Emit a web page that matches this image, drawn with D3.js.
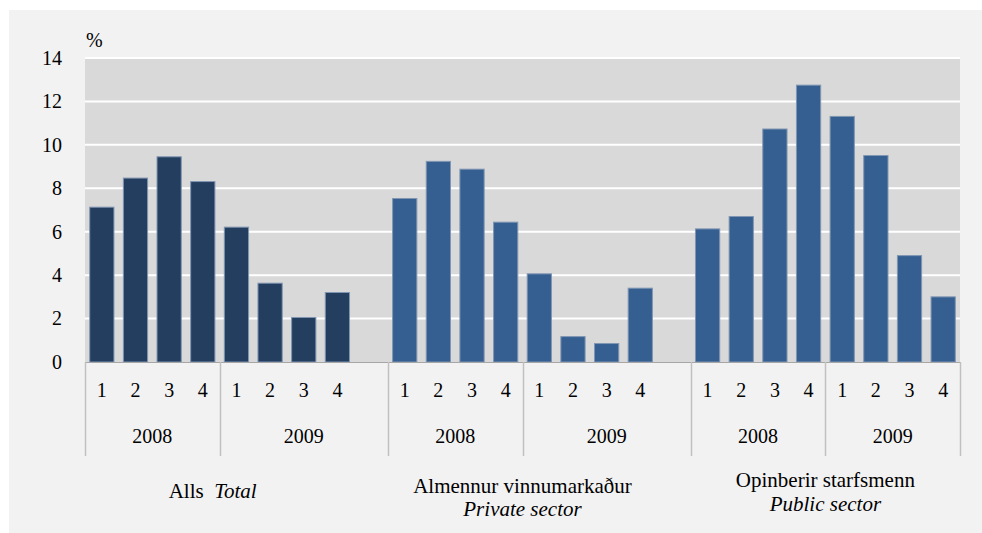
<!DOCTYPE html>
<html>
<head>
<meta charset="utf-8">
<script src="https://cdn.jsdelivr.net/npm/d3@7"></script>
<style>
  body { margin: 0; background: #fff; }
  text { font-family: "Liberation Serif", "Times New Roman", serif; fill: #000; }
</style>
</head>
<body>
<div id="vis"></div>
<script>
// data (percent)
const groups = ['total', 'private', 'public'];
const groupLine1 = ['Alls', 'Almennur vinnumarkaður', 'Opinberir starfsmenn'];
const groupLine2 = ['Total', 'Private sector', 'Public sector'];
const years = ['2008', '2009'];
const quarters = ['1', '2', '3', '4'];
const totalValues   = [7.13, 8.47, 9.45, 8.31, 6.21, 3.63, 2.05, 3.20];
const privateValues = [7.53, 9.24, 8.88, 6.44, 4.06, 1.17, 0.85, 3.40];
const publicValues  = [6.13, 6.70, 10.73, 12.75, 11.31, 9.51, 4.90, 3.00];
const yTicks = [0, 2, 4, 6, 8, 10, 12, 14];

const seriesValues = [totalValues, privateValues, publicValues];
const barColors = ['#243e60', '#355f91', '#355f91'];

const W = 982, H = 533;
const margin = { top: 58, right: 22, bottom: 171, left: 85 };
const width = W - margin.left - margin.right;
const height = H - margin.top - margin.bottom;
const numFont = '20px', labelFont = '21px';

// slot keys: 8 bars per group plus an empty slot between groups
const slots = [];
groups.forEach((g, gi) => {
    years.forEach(y => quarters.forEach(q => slots.push(`${g}-${y}-${q}`)));
    if (gi < groups.length - 1) slots.push(`${g}-gap`);
});

const bars = [];
groups.forEach((g, gi) => {
    seriesValues[gi].forEach((v, i) => {
        bars.push({ key: `${g}-${years[Math.floor(i / 4)]}-${quarters[i % 4]}`, value: v, group: gi });
    });
});

const svg = d3.select('#vis')
    .append('svg')
    .attr('width', W)
    .attr('height', H);

// grey panel
svg.append('rect')
    .attr('x', 9).attr('y', 10)
    .attr('width', W - 9).attr('height', H - 10)
    .attr('fill', '#f2f2f2');

const g = svg.append('g')
    .attr('transform', `translate(${margin.left},${margin.top})`);

const xScale = d3.scaleBand()
    .domain(slots)
    .range([0, width])
    .paddingInner(0.25)
    .paddingOuter(0.125);

const yScale = d3.scaleLinear()
    .domain([0, 14])
    .range([height, 0]);

// plot background
g.append('rect')
    .attr('width', width)
    .attr('height', height)
    .attr('fill', '#d9d9d9');

// gridlines
g.selectAll('.grid')
    .data(yTicks.filter(d => d > 0))
    .join('line')
    .attr('class', 'grid')
    .attr('x1', 0).attr('x2', width)
    .attr('y1', d => yScale(d)).attr('y2', d => yScale(d))
    .attr('stroke', '#fff')
    .attr('stroke-width', 2);

// y axis labels
const yAxis = d3.axisLeft(yScale).tickValues(yTicks).tickSize(0).tickPadding(23);
g.append('g')
    .call(yAxis)
    .call(a => a.select('.domain').remove())
    .selectAll('text')
    .style('font-size', numFont)
    .style('font-family', '"Liberation Serif", serif');

g.append('text')
    .attr('x', 1)
    .attr('y', -11)
    .style('font-size', numFont)
    .text('%');

// bars
const step = xScale.step();
g.selectAll('.bar')
    .data(bars)
    .join('rect')
    .attr('class', 'bar')
    .attr('x', d => xScale(d.key) + 0.5)
    .attr('y', d => yScale(d.value))
    .attr('width', xScale.bandwidth() - 1)
    .attr('height', d => height - yScale(d.value))
    .attr('fill', d => barColors[d.group])
    .attr('stroke', '#8196b2')
    .attr('stroke-width', 1);

// baseline
g.append('line')
    .attr('x1', 0).attr('x2', width)
    .attr('y1', height + 0.5).attr('y2', height + 0.5)
    .attr('stroke', '#a6a6a6');

// quarter labels
const xAxis = d3.axisBottom(xScale)
    .tickValues(bars.map(d => d.key))
    .tickFormat(k => k.split('-')[2])
    .tickSize(0)
    .tickPadding(21);
g.append('g')
    .attr('transform', `translate(0,${height})`)
    .call(xAxis)
    .call(a => a.select('.domain').remove())
    .selectAll('text')
    .style('font-size', numFont)
    .style('font-family', '"Liberation Serif", serif');

// year dividers and labels
const slotStart = k => xScale(k) - step * xScale.paddingInner() / 2;
const dividers = [];
groups.forEach((gr, gi) => {
    const start = slotStart(`${gr}-2008-1`);
    const mid = slotStart(`${gr}-2009-1`);
    const end = gi < groups.length - 1 ? slotStart(`${groups[gi + 1]}-2008-1`) : width;
    dividers.push(start, mid);
    if (gi === groups.length - 1) dividers.push(end);
    g.append('text')
        .attr('x', (start + mid) / 2)
        .attr('y', height + 81)
        .attr('text-anchor', 'middle')
        .style('font-size', numFont)
        .text('2008');
    g.append('text')
        .attr('x', (mid + end) / 2)
        .attr('y', height + 81)
        .attr('text-anchor', 'middle')
        .style('font-size', numFont)
        .text('2009');
});

g.selectAll('.divider')
    .data(dividers)
    .join('line')
    .attr('class', 'divider')
    .attr('x1', d => Math.round(d) + 0.5).attr('x2', d => Math.round(d) + 0.5)
    .attr('y1', height).attr('y2', height + 94)
    .attr('stroke', '#c0c0c0')
    .attr('stroke-width', 1.5);

// group labels
const labelY = [[136], [131, 154], [125, 149]];
groups.forEach((gr, gi) => {
    const cx = (slotStart(`${gr}-2008-1`) + slotStart(`${gr}-2009-4`) + step) / 2;
    if (gi === 0) {
        const t = g.append('text')
            .attr('x', cx - 7)
            .attr('y', height + labelY[gi][0])
            .attr('text-anchor', 'middle')
            .style('font-size', labelFont);
        t.append('tspan').text(groupLine1[gi] + '\u00a0\u00a0');
        t.append('tspan').style('font-style', 'italic').text(groupLine2[gi]);
    } else {
        g.append('text')
            .attr('x', cx)
            .attr('y', height + labelY[gi][0])
            .attr('text-anchor', 'middle')
            .style('font-size', labelFont)
            .text(groupLine1[gi]);
        g.append('text')
            .attr('x', cx)
            .attr('y', height + labelY[gi][1])
            .attr('text-anchor', 'middle')
            .style('font-size', labelFont)
            .style('font-style', 'italic')
            .text(groupLine2[gi]);
    }
});
</script>
</body>
</html>
